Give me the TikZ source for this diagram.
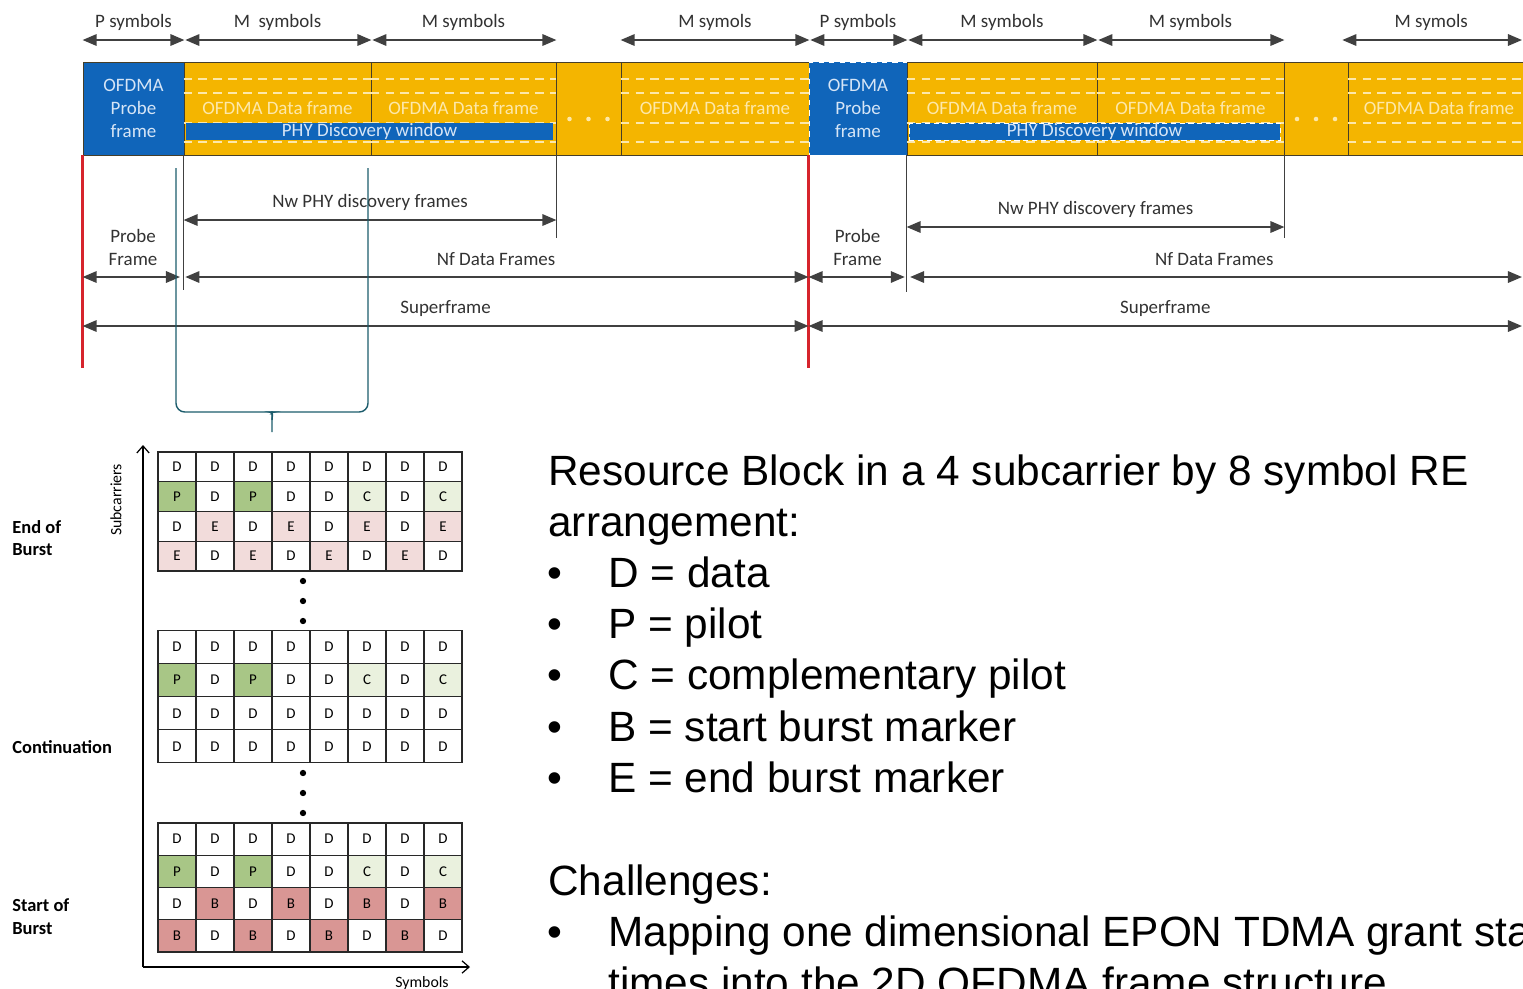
\documentclass[tikz,border=0pt]{standalone}
\usepackage{fontspec}
\setmainfont{Carlito}
\newfontfamily\slidefont{Liberation Sans}
\usetikzlibrary{arrows.meta, positioning}

\definecolor{probeblue}{RGB}{16,101,186}
\definecolor{bandyellow}{RGB}{244,181,0}
\definecolor{datatext}{RGB}{253,232,170}
\definecolor{probetext}{RGB}{214,229,246}
\definecolor{bandline}{RGB}{70,62,40}
\definecolor{arrowgray}{RGB}{64,64,64}
\definecolor{labelgray}{RGB}{50,50,50}
\definecolor{burstred}{RGB}{214,36,44}
\definecolor{bracketteal}{RGB}{28,92,108}
\definecolor{gridline}{RGB}{40,40,40}
\definecolor{cellD}{RGB}{255,255,255}
\definecolor{cellP}{RGB}{168,198,134}
\definecolor{cellC}{RGB}{234,241,222}
\definecolor{cellE}{RGB}{242,220,219}
\definecolor{cellB}{RGB}{217,150,148}

\begin{document}
\begin{tikzpicture}[x=0.02cm, y=-0.02cm,
    segment/.style={draw=bandline, line width=0.5pt, inner sep=0pt,
        minimum height=93*0.02cm, align=center,
        font=\fontsize{10.8}{13.3}\selectfont},
    probeseg/.style={segment, fill=probeblue, text=probetext, minimum width=#1*0.02cm},
    dataseg/.style={segment, fill=bandyellow, text=datatext, minimum width=#1*0.02cm},
    banddash/.style={draw=datatext, line width=0.6pt, dash pattern=on 5pt off 3.5pt},
    window/.style={fill=probeblue, text=probetext, inner sep=0pt,
        minimum height=17*0.02cm, minimum width=#1*0.02cm,
        font=\fontsize{10.8}{13}\selectfont},
    span/.style={{Triangle[length=8pt,width=6.5pt]}-{Triangle[length=8pt,width=6.5pt]},
        draw=arrowgray, line width=1.1pt},
    spanlabel/.style={text=labelgray, font=\fontsize{10.8}{13}\selectfont,
        yshift=10pt, align=center},
    tick/.style={draw=arrowgray, line width=0.6pt},
    burstline/.style={draw=burstred, line width=1.5pt},
    rbcell/.style={draw=gridline, line width=0.6pt, fill=cell#1, inner sep=0pt,
        minimum width=38*0.02cm, font=\fontsize{8.5}{10}\selectfont},
    axis/.style={-{Straight Barb[length=4pt,width=7pt]}, draw=black, line width=0.7pt},
    sidelabel/.style={anchor=west, align=left, inner sep=0pt,
        font=\bfseries\fontsize{10.5}{13}\selectfont},
    slide/.style={anchor=base west, inner sep=0pt, font=\slidefont\fontsize{24.1}{29}\selectfont}
]
\useasboundingbox (0,0) rectangle (1523,988);
\clip (0,0) rectangle (1523,988);

% superframe band
\node[probeseg=101] (p1) at (133.5,108.5) {OFDMA\\Probe\\frame};
\node[dataseg=187] (d1) at (277.5,108.5) {OFDMA Data frame};
\node[dataseg=185] (d2) at (463.5,108.5) {OFDMA Data frame};
\node[dataseg=65] (g1) at (588.5,108.5) {};
\node[dataseg=188] (d3) at (715,108.5) {OFDMA Data frame};
\node[probeseg=98, draw=white, dashed] (p2) at (858,108.5) {OFDMA\\Probe\\frame};
\node[dataseg=190] (d4) at (1002,108.5) {OFDMA Data frame};
\node[dataseg=187] (d5) at (1190.5,108.5) {OFDMA Data frame};
\node[dataseg=64] (g2) at (1316,108.5) {};
\node[dataseg=182] (d6) at (1439,108.5) {OFDMA Data frame};

\foreach \s in {d1,d2,d3,d4,d5,d6}
  \foreach \yy in {79,93,123,142}
    \draw[banddash] (\s.west |- 0,\yy) -- (\s.east |- 0,\yy);
\foreach \g in {g1,g2}
  \foreach \k in {-1,0,1}
    \fill[datatext] (\g.center) ++(19*\k,10.5) circle (1.3pt);

\node[window=367] (win1) at (369.5,131.5) {PHY Discovery window};
\node[window=371, draw=white, dash pattern=on 3pt off 2pt, line width=0.5pt] (win2) at (1094.5,131.5) {PHY Discovery window};

% symbol counts above the band
\coordinate (toprow) at (0,40);
\coordinate (rim) at (1522,0);
\draw[span] (p1.west |- toprow) -- (p1.east |- toprow) node[midway, spanlabel] {P symbols};
\draw[span, shorten <=1pt] (d1.west |- toprow) -- (d1.east |- toprow) node[midway, spanlabel] {M\ \ symbols};
\draw[span, shorten <=1pt] (d2.west |- toprow) -- (d2.east |- toprow) node[midway, spanlabel] {M symbols};
\draw[span] (d3.west |- toprow) -- (d3.east |- toprow) node[midway, spanlabel] {M symols};
\draw[span, shorten <=1pt] (p2.west |- toprow) -- (p2.east |- toprow) node[midway, spanlabel] {P symbols};
\draw[span, shorten <=1pt] (d4.west |- toprow) -- (d4.east |- toprow) node[midway, spanlabel] {M symbols};
\draw[span, shorten <=1pt] (d5.west |- toprow) -- (d5.east |- toprow) node[midway, spanlabel] {M symbols};
\draw[span, shorten <=-3pt] (d6.west |- toprow) -- (rim |- toprow) node[midway, spanlabel, xshift=-2pt] {M symols};

% boundaries below the band
\draw[burstline] (p1.south west) -- (p1.west |- 0,368);
\draw[burstline] (p2.south west) -- (p2.west |- 0,368);
\draw[tick] (d1.south west) -- (d1.west |- 0,290);
\draw[tick] (d2.south east) -- (d2.east |- 0,238);
\draw[tick] (d4.south west) -- (d4.west |- 0,292);
\draw[tick] (d5.south east) -- (d5.east |- 0,238);

% frame spans
\coordinate (nwrow1) at (0,220);
\coordinate (nwrow2) at (0,227);
\coordinate (nfrow) at (0,277);
\coordinate (sfrow) at (0,326);
\draw[span] (d1.west |- nwrow1) -- (d2.east |- nwrow1) node[midway, spanlabel] {Nw PHY discovery frames};
\draw[span] (d4.west |- nwrow2) -- (d5.east |- nwrow2) node[midway, spanlabel] {Nw PHY discovery frames};
\draw[span, shorten >=2pt] (p1.west |- nfrow) -- (d1.west |- nfrow) node[midway, spanlabel, yshift=7pt] {Probe\\Frame};
\draw[span, shorten <=1pt] (d1.west |- nfrow) -- (p2.west |- nfrow) node[midway, spanlabel] {Nf Data Frames};
\draw[span, shorten >=1pt] (p2.west |- nfrow) -- (d4.west |- nfrow) node[midway, spanlabel, yshift=7pt] {Probe\\Frame};
\draw[span, shorten <=2pt] (d4.west |- nfrow) -- (rim |- nfrow) node[midway, spanlabel] {Nf Data Frames};
\draw[span] (p1.west |- sfrow) -- (p2.west |- sfrow) node[midway, spanlabel] {Superframe};
\draw[span] (p2.west |- sfrow) -- (rim |- sfrow) node[midway, spanlabel] {Superframe};

% bracket down to the resource block
\draw[bracketteal, line width=0.8pt, rounded corners=5pt]
  (176,168) |- (266,412) to[out=0, in=90] (272,420) -- (272,432);
\draw[bracketteal, line width=0.8pt, rounded corners=5pt]
  (368,168) |- (278,412) to[out=180, in=90] (272,420);

% resource blocks
\foreach \r/\top/\h/\cells in {
    e1/452/29.75/{D,D,D,D,D,D,D,D},
    e2/481.75/29.75/{P,D,P,D,D,C,D,C},
    e3/511.5/29.75/{D,E,D,E,D,E,D,E},
    e4/541.25/29.75/{E,D,E,D,E,D,E,D},
    c1/630.5/33.1/{D,D,D,D,D,D,D,D},
    c2/663.6/33.1/{P,D,P,D,D,C,D,C},
    c3/696.7/33.1/{D,D,D,D,D,D,D,D},
    c4/729.8/33.1/{D,D,D,D,D,D,D,D},
    s1/823/32.25/{D,D,D,D,D,D,D,D},
    s2/855.25/32.25/{P,D,P,D,D,C,D,C},
    s3/887.5/32.25/{D,B,D,B,D,B,D,B},
    s4/919.75/32.25/{B,D,B,D,B,D,B,D}}
  \foreach \l [count=\i] in \cells
    \node[rbcell=\l, minimum height=\h*0.02cm] (\r-\i) at ({158+38*(\i-0.5)}, {\top+\h/2}) {\l};

\foreach \yy in {581,601,621,773,793,813}
  \fill (303,\yy) circle (1.8pt);

% axes
\coordinate (origin) at (143,967);
\draw[axis] (origin) -- (143,445);
\draw[axis] (origin) -- (470,967);
\node[rotate=90, font=\fontsize{9}{11}\selectfont] (subc) at (116,500) {Subcarriers};
\node[font=\fontsize{9}{11}\selectfont] (symb) at (422,983) {Symbols};

\node[sidelabel] (endb) at (12,538) {End of\\Burst};
\node[sidelabel] (contb) at (12,747) {Continuation};
\node[sidelabel] (startb) at (12,917) {Start of\\Burst};

% slide text
\node[slide] (title1) at (548,485) {Resource Block in a 4 subcarrier by 8 symbol RE};
\node[slide] (title2) at (548,536) {arrangement:};
\foreach \t [count=\i] in {D = data, P = pilot, C = complementary pilot,
    B = start burst marker, E = end burst marker} {
  \node[slide] (dot\i) at (547,{536+51.3*\i}) {•};
  \node[slide] (item\i) at (608,{536+51.3*\i}) {\t};
}
\node[slide] (chal) at (548,895) {Challenges:};
\node[slide] (chdot) at (547,946) {•};
\node[slide] (chal1) at (608,946) {Mapping one dimensional EPON TDMA grant start};
\node[slide] (chal2) at (608,997) {times into the 2D OFDMA frame structure};

\end{tikzpicture}
\end{document}
